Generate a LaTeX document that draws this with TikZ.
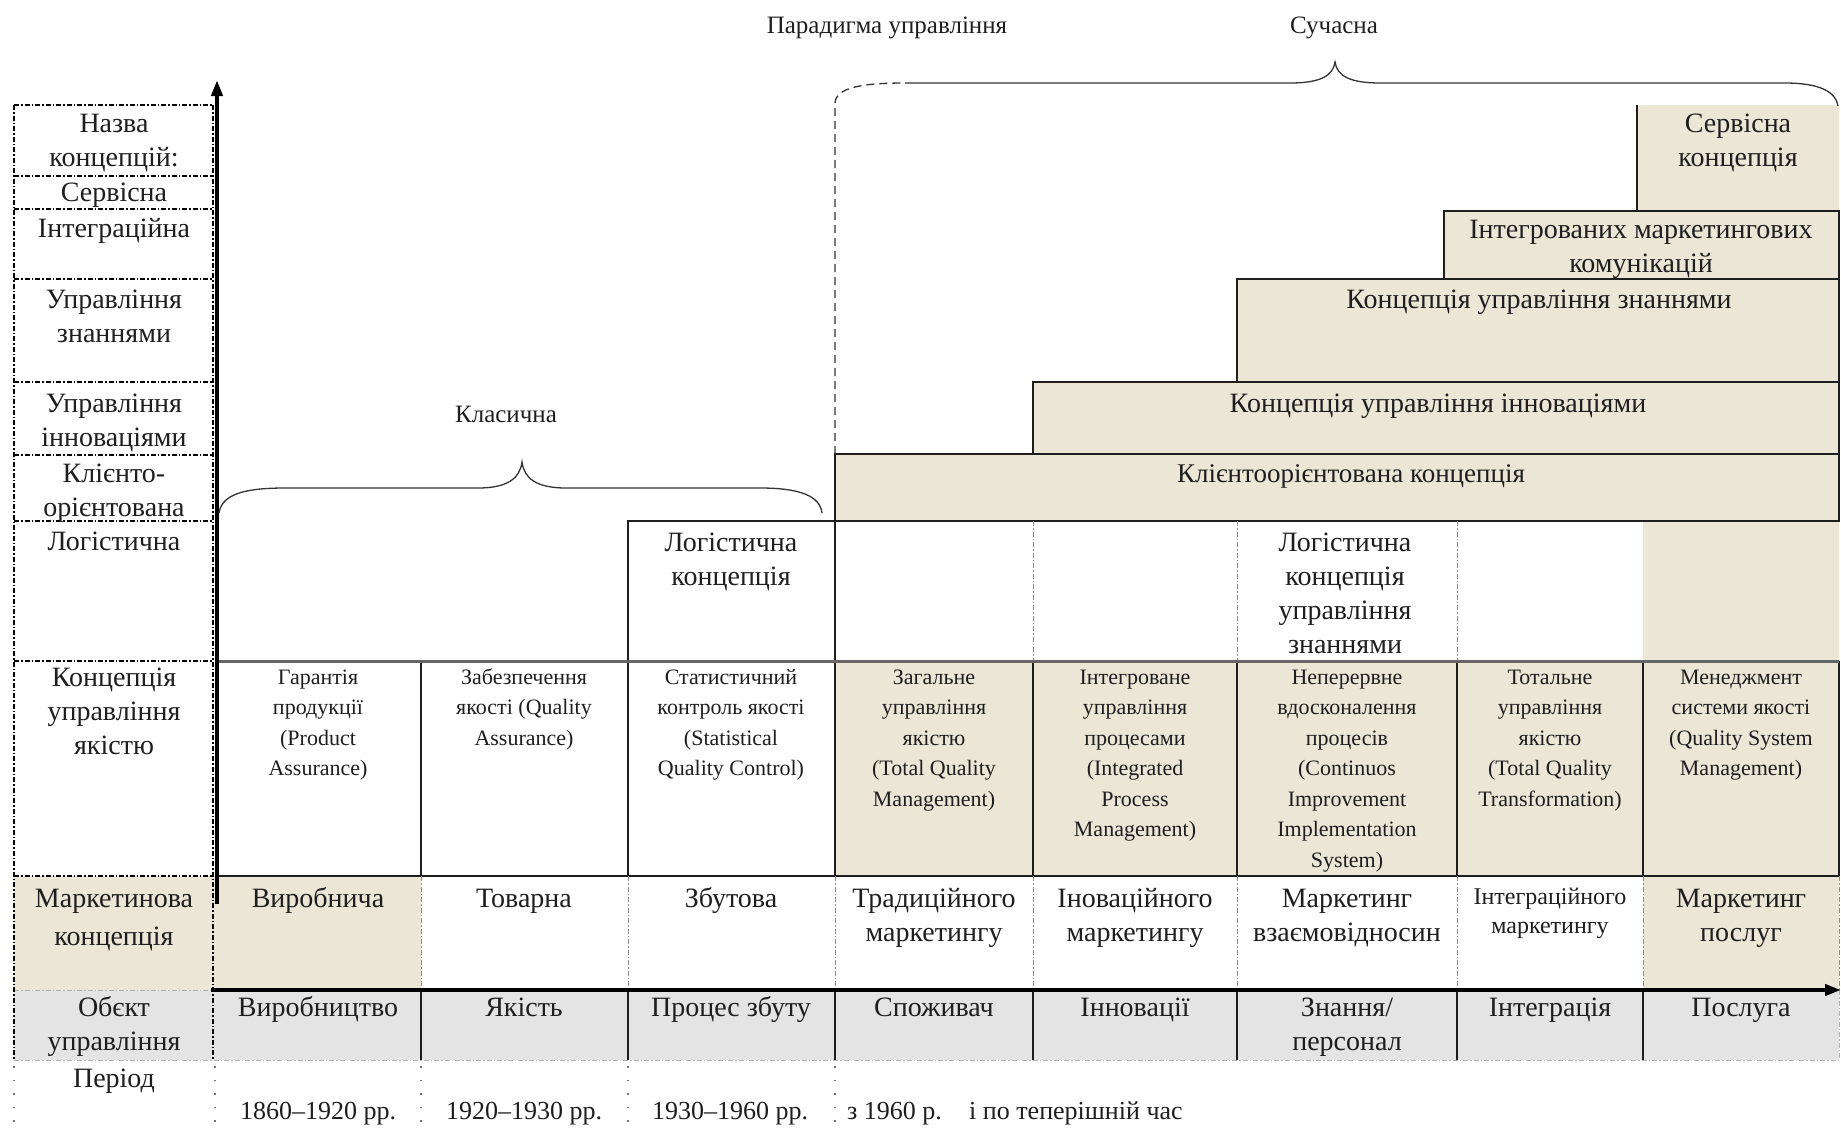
\documentclass[tikz,border=0pt]{standalone}
\usepackage{fontspec}
\setmainfont{Liberation Serif}
\usetikzlibrary{positioning,calc,arrows.meta}
\definecolor{stip}{RGB}{235,230,214}
\definecolor{dots}{RGB}{228,228,228}
\definecolor{ink}{RGB}{30,30,30}

\begin{document}
\begin{tikzpicture}[x=1pt,y=-1pt]
    \tikzstyle{every node}=[inner sep=0,align=center,anchor=base,text=ink]
    \tikzstyle{bigtext}=[font=\fontsize{28}{34}\selectfont]
    \tikzstyle{midtext}=[font=\fontsize{24}{29}\selectfont]
    \tikzstyle{smalltext}=[font=\fontsize{22}{30.5}\selectfont]
    \tikzstyle{headtext}=[font=\fontsize{25}{30}\selectfont]
    \tikzstyle{datetext}=[font=\fontsize{26}{30}\selectfont]
    \tikzstyle{cell}=[draw=ink,line width=1.6]
    \tikzstyle{lab}=[draw=black,line width=1.8,dash pattern=on 5pt off 2pt on 1.5pt off 2pt]
    \tikzstyle{cellsep}=[draw=black!45,line width=1,dash pattern=on 5pt off 2pt on 1.5pt off 2pt]
    \tikzstyle{dotline}=[draw=black!55,line width=1.4,dash pattern=on 1.5pt off 12pt]
    \tikzstyle{axisline}=[draw=black,line width=4,-{Triangle[length=16pt,width=11pt]}]
    \tikzstyle{brace}=[draw=black!80,line width=1.3]
    \useasboundingbox (0,0) rectangle (1841,1133);

    \fill[stip] (14,876) rectangle (421,990);
    \fill[stip] (1643,876) rectangle (1839,990);
    \fill[stip] (835,661) rectangle (1839,876);
    \fill[stip] (1643,521) rectangle (1839,661);
    \fill[dots] (14,990) rectangle (1839,1060);

    \fill[stip] (1637,105) rectangle (1839,211);
    \draw[cell] (1637,105) -- (1637,211);
    \draw[cell,fill=stip] (1444,211) rectangle (1839,279);
    \draw[cell,fill=stip] (1237,279) rectangle (1839,382);
    \draw[cell,fill=stip] (1033,382) rectangle (1839,454);
    \draw[cell,fill=stip] (835,454) rectangle (1839,521);

    \draw[cell] (628,661) -- (628,521) -- (835,521) -- (835,661);
    \draw[cellsep] (1033,521) -- (1033,661) (1237,521) -- (1237,661) (1457,521) -- (1457,661);

    \draw[cell] (217,876) -- (1839,876);
    \draw[cell] (421,661) -- (421,876) (628,661) -- (628,876) (835,661) -- (835,876)
        (1033,661) -- (1033,876) (1237,661) -- (1237,876) (1457,661) -- (1457,876)
        (1643,661) -- (1643,876) (1839,661) -- (1839,876);
    \draw[line width=3,draw=black!60] (217,661) -- (1839,661);

    \draw[cellsep] (421,876) -- (421,990) (628,876) -- (628,990) (835,876) -- (835,990)
        (1033,876) -- (1033,990) (1237,876) -- (1237,990) (1457,876) -- (1457,990)
        (1643,876) -- (1643,990) (1839,876) -- (1839,990);
    \draw[cell] (421,990) -- (421,1060) (628,990) -- (628,1060) (835,990) -- (835,1060)
        (1033,990) -- (1033,1060) (1237,990) -- (1237,1060) (1457,990) -- (1457,1060)
        (1643,990) -- (1643,1060);
    \draw[cellsep,draw=black!30] (14,1060) -- (1839,1060) (1839,990) -- (1839,1060) (14,990) -- (213,990);

    \draw[lab] (14,105) -- (213,105) (14,105) -- (14,1060) (213,105) -- (213,1060);
    \draw[lab] (14,176) -- (213,176) (14,209) -- (213,209) (14,279) -- (213,279)
        (14,382) -- (213,382) (14,455) -- (213,455) (14,521) -- (213,521)
        (14,661) -- (213,661) (14,876) -- (213,876);
    \draw[dotline] (14,1066) -- (14,1133) (215,1066) -- (215,1133) (421,1066) -- (421,1133)
        (628,1066) -- (628,1133) (835,1066) -- (835,1133);

    \draw[axisline] (217,904) -- (217,80);
    \draw[axisline] (211,990) -- (1841,990);

    \draw[brace] (219,513) .. controls (222,494) and (245,488) .. (285,488) -- (478,488)
        .. controls (508,488) and (520,478) .. (522,462) .. controls (524,478) and (536,488) .. (566,488)
        -- (760,488) .. controls (800,488) and (820,496) .. (822,513);
    \draw[brace,dash pattern=on 8pt off 5pt] (835,454) -- (835,103) .. controls (836,88) and (860,83) .. (905,83);
    \draw[brace] (905,83) -- (1290,83) .. controls (1320,83) and (1333,76) .. (1335,62)
        .. controls (1337,76) and (1350,83) .. (1380,83) -- (1785,83) .. controls (1820,83) and (1836,92) .. (1838,106);

    \node[headtext] (paradigm) at (887,33) {Парадигма управління};
    \node[headtext] (modern) at (1334,33) {Сучасна};
    \node[headtext] (classic) at (506,422) {Класична};

    \node[bigtext] (service) at (1738,166) {Сервісна\\концепція};
    \node[bigtext] (imc) at (1641,272) {Інтегрованих маркетингових\\комунікацій};
    \node[bigtext] (knowledge) at (1539,308) {Концепція управління знаннями};
    \node[bigtext] (innovation) at (1438,412) {Концепція управління інноваціями};
    \node[bigtext,font=\fontsize{27}{34}\selectfont] (client) at (1351,482) {Клієнтоорієнтована концепція};

    \node[bigtext] (logc) at (731,585) {Логістична\\концепція};
    \node[bigtext] (logk) at (1345,653) {Логістична\\концепція\\управління\\знаннями};

    \node[bigtext] (l1) at (114,166) {Назва\\концепцій:};
    \node[bigtext] (l2) at (114,201) {Сервісна};
    \node[bigtext] (l3) at (114,237) {Інтеграційна};
    \node[bigtext] (l4) at (114,342) {Управління\\знаннями};
    \node[bigtext] (l5) at (114,446) {Управління\\інноваціями};
    \node[bigtext] (l6) at (114,516) {Клієнто-\\орієнтована};
    \node[bigtext] (l7) at (114,550) {Логістична};
    \node[bigtext] (l8) at (114,754) {Концепція\\управління\\якістю};
    \node[bigtext,font=\fontsize{28}{38}\selectfont] (l9) at (114,945) {Маркетинова\\концепція};
    \node[bigtext] (l10) at (114,1050) {Обєкт\\управління};
    \node[bigtext] (l11) at (114,1087) {Період};

    \node[smalltext] (q1) at (318,775.5) {Гарантія\\продукції\\(Product\\Assurance)};
    \node[smalltext] (q2) at (524,745) {Забезпечення\\якості (Quality\\Assurance)};
    \node[smalltext] (q3) at (731,775.5) {Статистичний\\контроль якості\\(Statistical\\Quality Control)};
    \node[smalltext] (q4) at (934,806) {Загальне\\управління\\якістю\\(Total Quality\\Management)};
    \node[smalltext] (q5) at (1135,836.5) {Інтегроване\\управління\\процесами\\(Integrated\\Process\\Management)};
    \node[smalltext] (q6) at (1347,867) {Неперервне\\вдосконалення\\процесів\\(Continuos\\Improvement\\Implementation\\System)};
    \node[smalltext] (q7) at (1550,806) {Тотальне\\управління\\якістю\\(Total Quality\\Transformation)};
    \node[smalltext] (q8) at (1741,775.5) {Менеджмент\\системи якості\\(Quality System\\Management)};

    \node[bigtext] (m1) at (318,907) {Виробнича};
    \node[bigtext] (m2) at (524,907) {Товарна};
    \node[bigtext] (m3) at (731,907) {Збутова};
    \node[bigtext] (m4) at (934,941) {Традиційного\\маркетингу};
    \node[bigtext] (m5) at (1135,941) {Іноваційного\\маркетингу};
    \node[bigtext] (m6) at (1347,941) {Маркетинг\\взаємовідносин};
    \node[midtext] (m7) at (1550,933) {Інтеграційного\\маркетингу};
    \node[bigtext] (m8) at (1741,941) {Маркетинг\\послуг};

    \node[bigtext] (o1) at (318,1016) {Виробництво};
    \node[bigtext] (o2) at (524,1016) {Якість};
    \node[bigtext] (o3) at (731,1016) {Процес збуту};
    \node[bigtext] (o4) at (934,1016) {Споживач};
    \node[bigtext] (o5) at (1135,1016) {Інновації};
    \node[bigtext] (o6) at (1347,1050) {Знання/\\персонал};
    \node[bigtext] (o7) at (1550,1016) {Інтеграція};
    \node[bigtext] (o8) at (1741,1016) {Послуга};

    \node[datetext] (p1) at (318,1119) {1860–1920 рр.};
    \node[datetext] (p2) at (524,1119) {1920–1930 рр.};
    \node[datetext] (p3) at (730,1119) {1930–1960 рр.};
    \node[datetext,anchor=base west] (p4) at (847,1119) {з 1960 р.};
    \node[datetext,anchor=base west] (p5) at (969,1119) {і по теперішній час};
\end{tikzpicture}
\end{document}
